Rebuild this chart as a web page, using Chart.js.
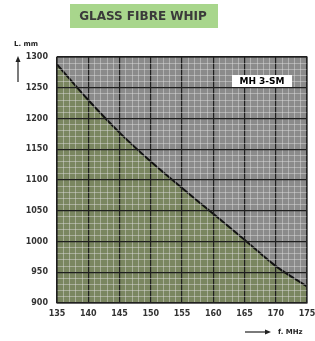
<!DOCTYPE html>
<html>
<head>
<meta charset="utf-8">
<script src="https://cdn.jsdelivr.net/npm/chart.js@4"></script>
<style>
  html, body { margin: 0; padding: 0; background: #fff; }
  #wrap { width: 315px; height: 341px; }
</style>
</head>
<body>
<div id="wrap"><canvas id="whipChart"></canvas></div>
<script>
// Frequency (MHz) vs whip length (mm)
const freqs = [135, 140, 145, 150, 155, 160, 165, 170, 175];
const lengths = [1288, 1230, 1177, 1130, 1087, 1045, 1003, 960, 927];

const xRange = [135, 175];
const yRange = [900, 1300];

const tickFont = { family: 'DejaVu Sans', size: 8, weight: 'bold' };

// Gray paper behind the plot area
const paperPlugin = {
	id: 'paper',
	beforeDraw(chart) {
		const { ctx, chartArea: a } = chart;
		ctx.save();
		ctx.fillStyle = '#8b8b8b';
		ctx.fillRect(a.left, a.top, a.right - a.left, a.bottom - a.top);
		ctx.restore();
	}
};

// Frame, title box, axis captions and model label
const labelsPlugin = {
	id: 'labels',
	afterDraw(chart) {
		const { ctx, chartArea: a } = chart;
		ctx.save();

		// plot frame
		ctx.strokeStyle = '#222';
		ctx.lineWidth = 1.2;
		ctx.strokeRect(a.left, a.top, a.right - a.left, a.bottom - a.top);

		// title
		ctx.fillStyle = '#a8d68c';
		ctx.fillRect(70, 4, 148, 24);
		ctx.fillStyle = '#3a3a3a';
		ctx.font = 'bold 12px "DejaVu Sans"';
		ctx.textAlign = 'center';
		ctx.textBaseline = 'middle';
		ctx.fillText('GLASS FIBRE WHIP', 143, 17);

		// y caption + arrow
		ctx.fillStyle = '#222';
		ctx.font = 'bold 7px "DejaVu Sans"';
		ctx.textAlign = 'left';
		ctx.fillText('L. mm', 14, 44);
		ctx.lineWidth = 1.2;
		ctx.beginPath();
		ctx.moveTo(18, 82);
		ctx.lineTo(18, 60);
		ctx.stroke();
		ctx.beginPath();
		ctx.moveTo(18, 56);
		ctx.lineTo(15.5, 62);
		ctx.lineTo(20.5, 62);
		ctx.closePath();
		ctx.fill();

		// x caption + arrow
		ctx.beginPath();
		ctx.moveTo(245, 332);
		ctx.lineTo(266, 332);
		ctx.stroke();
		ctx.beginPath();
		ctx.moveTo(271, 332);
		ctx.lineTo(265, 329.5);
		ctx.lineTo(265, 334.5);
		ctx.closePath();
		ctx.fill();
		ctx.fillText('f. MHz', 278, 332);

		// model label
		ctx.fillStyle = '#fff';
		ctx.fillRect(232, 75, 60, 12);
		ctx.fillStyle = '#000';
		ctx.font = 'bold 9px "DejaVu Sans"';
		ctx.textAlign = 'center';
		ctx.fillText('MH 3-SM', 262, 81.5);

		ctx.restore();
	}
};

new Chart(document.getElementById('whipChart'), {
	type: 'line',
	data: {
		datasets: [{
			label: 'MH 3-SM',
			data: freqs.map((f, i) => ({ x: f, y: lengths[i] })),
			borderColor: '#111',
			borderWidth: 2,
			backgroundColor: '#7a8660',    // green area under the curve
			fill: 'start',
			tension: 0.35,
			pointRadius: 0
		}]
	},
	options: {
		responsive: true,
		maintainAspectRatio: false,
		animation: false,
		layout: { padding: { top: 57, right: 0, left: 0, bottom: 0 } },
		plugins: {
			legend: { display: false },
			tooltip: { enabled: false }
		},
		scales: {
			x: {
				type: 'linear',
				min: xRange[0],
				max: xRange[1],
				afterFit: s => { s.height = 38; s.paddingLeft = 0; s.paddingRight = 8; },
				border: { display: false },
				grid: {
					z: 1,
					drawTicks: false,
					color: c => c.tick && c.tick.value % 5 === 0 ? '#1e1e1e' : 'rgba(225,225,225,0.45)',
					lineWidth: c => c.tick && c.tick.value % 5 === 0 ? 1.2 : 1
				},
				ticks: {
					stepSize: 1,
					autoSkip: false,
					maxRotation: 0,
					padding: 6,
					color: '#333',
					font: tickFont,
					callback: v => v % 5 === 0 ? v : ''
				}
			},
			y: {
				min: yRange[0],
				max: yRange[1],
				afterFit: s => { s.width = 57; s.paddingTop = 0; s.paddingBottom = 0; },
				border: { display: false },
				grid: {
					z: 1,
					drawTicks: false,
					color: c => c.tick && c.tick.value % 50 === 0 ? '#1e1e1e' : 'rgba(225,225,225,0.45)',
					lineWidth: c => c.tick && c.tick.value % 50 === 0 ? 1.2 : 1
				},
				ticks: {
					stepSize: 10,
					autoSkip: false,
					padding: 9,
					color: '#333',
					font: tickFont,
					callback: v => v % 50 === 0 ? v : ''
				}
			}
		}
	},
	plugins: [paperPlugin, labelsPlugin]
});
</script>
</body>
</html>
